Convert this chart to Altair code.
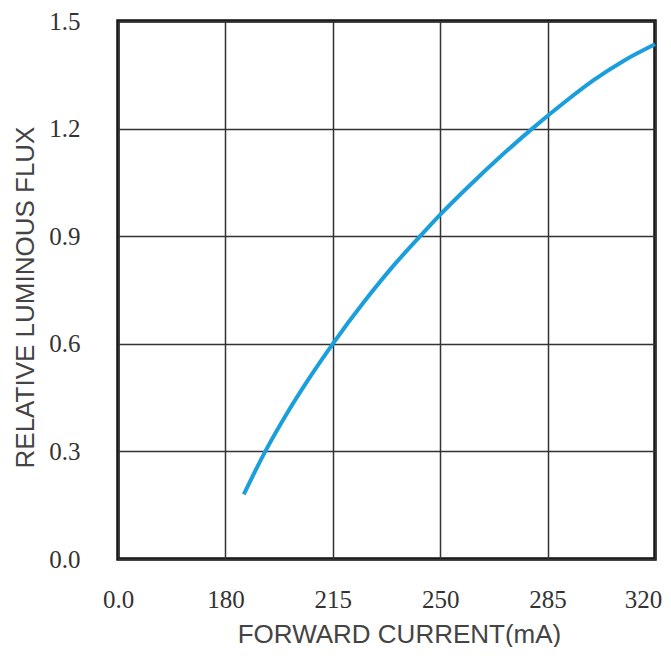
import json
import altair as alt
import pandas as pd

# Data
current_ma = [186, 193, 200, 207, 215, 225, 235, 244, 250, 260, 270, 280, 290, 300, 310, 320]
rel_flux = [0.18, 0.30, 0.405, 0.50, 0.60, 0.715, 0.82, 0.905, 0.96, 1.045, 1.125, 1.20, 1.27, 1.335, 1.39, 1.435]

x_tick_labels = ["0.0", "180", "215", "250", "285", "320"]
y_ticks = [0.0, 0.3, 0.6, 0.9, 1.2, 1.5]

df = pd.DataFrame({"current": current_ma, "flux": rel_flux})

label_expr = json.dumps(x_tick_labels) + "[datum.value]"

line = (
    alt.Chart(df)
    .transform_calculate(pos="(datum.current - 180) / 35 + 1")
    .mark_line(color="#1a9fdc", strokeWidth=4, interpolate="monotone", strokeCap="butt")
    .encode(
        x=alt.X(
            "pos:Q",
            scale=alt.Scale(domain=[0, 5], nice=False, zero=False),
            axis=alt.Axis(
                values=[0, 1, 2, 3, 4, 5],
                labelExpr=label_expr,
                title="FORWARD CURRENT(mA)",
                grid=True,
                gridColor="#333333",
                gridWidth=1.5,
                domain=False,
                ticks=False,
                labelFont="Liberation Serif",
                labelFontSize=25,
                labelColor="#333333",
                labelPadding=28,
                labelFlush=False,
                labelOffset={"condition": {"test": "datum.value == 5", "value": -12}, "value": 0},
                titleFont="Liberation Sans",
                titleFontSize=26,
                titleFontWeight="normal",
                titleColor="#444444",
                titleX=281,
                titleY=83,
                titleAlign="center",
                titleBaseline="alphabetic",
            ),
        ),
        y=alt.Y(
            "flux:Q",
            scale=alt.Scale(domain=[0, 1.5], nice=False),
            axis=alt.Axis(
                values=y_ticks,
                format=".1f",
                title="RELATIVE LUMINOUS FLUX",
                grid=True,
                gridColor="#333333",
                gridWidth=1.5,
                domain=False,
                ticks=False,
                labelFont="Liberation Serif",
                labelFontSize=25,
                labelColor="#333333",
                labelPadding=38,
                labelFlush=False,
                titleFont="Liberation Sans",
                titleFontSize=26,
                titleFontWeight="normal",
                titleColor="#444444",
                titleX=-85,
                titleY=276,
                titleAngle=270,
                titleAlign="center",
                titleBaseline="alphabetic",
            ),
        ),
    )
)

chart = (
    line.properties(
        width=537,
        height=538,
        autosize=alt.AutoSizeParams(type="none"),
        padding={"left": 110, "top": 13, "right": 8, "bottom": 88},
        background="white",
    )
    .configure_view(stroke="#111111", strokeWidth=3.5)
)

chart.save("out.html", embed_options={"renderer": "svg", "actions": False})
